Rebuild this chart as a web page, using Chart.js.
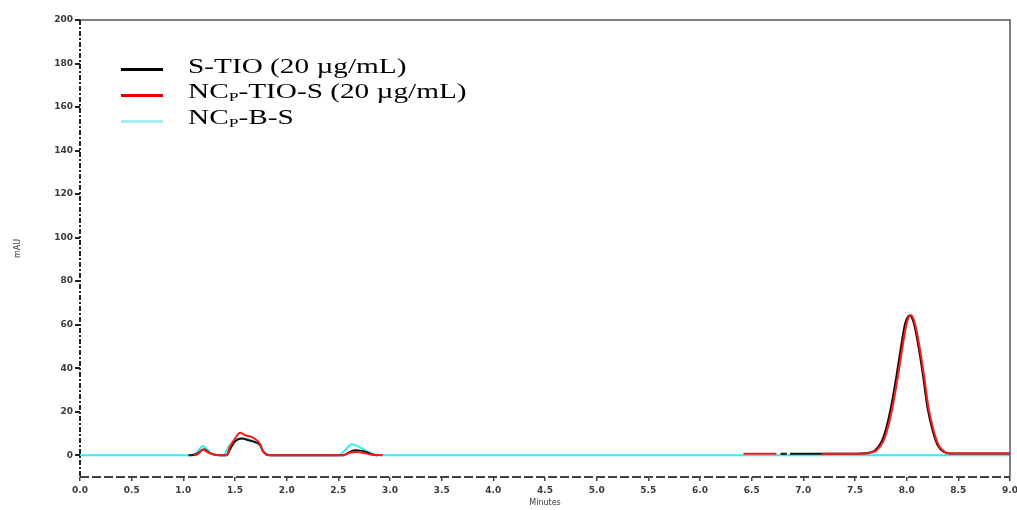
<!DOCTYPE html>
<html>
<head>
<meta charset="utf-8">
<script src="https://cdn.jsdelivr.net/npm/chart.js@4"></script>
<style>
    body { margin: 0; background: #fff; }
    #wrap { position: relative; width: 1017px; height: 510px; }
    #legend { position: absolute; left: 121px; top: 53px; font-family: "Liberation Serif", "Times New Roman", serif; font-size: 22px; color: #000; }
    .row { display: flex; align-items: center; height: 26px; }
    .swatch { width: 42px; height: 3px; margin-right: 25px; position: relative; top: 3px; }
    .txt { display: inline-block; transform: scaleX(1.33); transform-origin: left center; white-space: nowrap; }
    sub { font-size: 60%; vertical-align: -0.25em; }
</style>
</head>
<body>
<div id="wrap">
    <canvas id="myChart" width="1017" height="510"></canvas>
    <div id="legend"></div>
</div>
<script>
// tick labels
const xTicks = [0, 0.5, 1, 1.5, 2, 2.5, 3, 3.5, 4, 4.5, 5, 5.5, 6, 6.5, 7, 7.5, 8, 8.5, 9];
const yTicks = [0, 20, 40, 60, 80, 100, 120, 140, 160, 180, 200];

// legend labels (P is written as subscript)
const seriesNames = ['S-TIO (20 µg/mL)', 'NC<sub>P</sub>-TIO-S (20 µg/mL)', 'NC<sub>P</sub>-B-S'];

// S-TIO (black), null breaks the trace
const stioTime = [1.05, 1.12, 1.16, 1.20, 1.24, 1.29, 1.36, 1.42, 1.45, 1.49, 1.53, 1.57, 1.63, 1.69, 1.74, 1.77, 1.80, 1.84,
    2.55, 2.59, 2.66, 2.73, 2.79, 2.84, 2.88, 2.89,
    6.78, 6.84, 6.85, 6.87, 7.20, 7.50, 7.60, 7.645, 7.695, 7.755, 7.805, 7.855, 7.905, 7.945, 7.985, 8.03, 8.07, 8.12, 8.16,
    8.20, 8.25, 8.30, 8.36, 8.42, 8.60, 9.00];
const stioValue = [0, 0.3, 1.6, 2.8, 1.4, 0.4, 0, 0, 2.5, 5.8, 7.3, 7.7, 6.9, 6.1, 4.9, 2.0, 0.5, 0,
    0, 1.0, 2.3, 2.0, 1.1, 0.2, 0, null,
    0.7, 0.7, null, 0.7, 0.7, 0.7, 0.9, 1.3, 2.3, 6.1, 13.0, 23.8, 37.6, 49.8, 60.5, 64.2, 60.5, 48.3, 36.0,
    22.2, 11.5, 4.6, 1.5, 0.8, 0.8, 0.8];

// NCp-TIO-S (red)
const nctioTime = [1.10, 1.14, 1.19, 1.23, 1.28, 1.35, 1.42, 1.45, 1.50, 1.55, 1.60, 1.66, 1.71, 1.74, 1.77, 1.81, 1.85,
    2.55, 2.61, 2.68, 2.74, 2.81, 2.93, 2.94,
    6.42, 6.74, 6.75, 7.18, 7.50, 7.62, 7.66, 7.71, 7.77, 7.82, 7.87, 7.92, 7.96, 8.00, 8.04, 8.08, 8.13, 8.17, 8.21, 8.26,
    8.31, 8.37, 8.42, 8.60, 9.00];
const nctioValue = [0, 0.5, 2.6, 1.5, 0.5, 0, 0, 3.8, 7.7, 10.3, 9.2, 8.4, 6.9, 5.4, 1.9, 0.4, 0,
    0, 1.1, 1.5, 1.1, 0.3, 0, null,
    0.7, 0.7, null, 0.7, 0.7, 0.8, 1.3, 2.3, 6.1, 13.0, 23.8, 37.6, 49.8, 60.5, 64.4, 60.5, 48.3, 36.0, 22.2, 11.5,
    4.6, 1.5, 0.8, 0.8, 0.8];

// NCp-B-S (cyan)
const ncbTime = [0, 1.08, 1.12, 1.16, 1.19, 1.24, 1.27, 1.32, 1.39, 1.435, 1.50, 1.55, 1.63, 1.69, 1.74, 1.79, 1.81,
    2.50, 2.565, 2.63, 2.69, 2.76, 2.81, 2.87, 9.00];
const ncbValue = [0, 0, 0.8, 3.0, 4.3, 2.3, 0.8, 0, 0, 3.8, 6.9, 7.7, 7.2, 6.1, 4.6, 0.8, 0,
    0, 2.3, 5.0, 4.1, 2.3, 1.1, 0, 0];

function pairs(t, v) {
    return t.map((x, i) => ({ x: x, y: v[i] }));
}

// legend
const swatches = ['#000000', '#e00000', '#a8f0f0'];
document.getElementById('legend').innerHTML = seriesNames.map((n, i) =>
    `<div class="row"><span class="swatch" style="background:${swatches[i]}"></span><span class="txt">${n}</span></div>`).join('');

// frame: solid top/right, dashed left/bottom axes
const frame = {
    id: 'frame',
    afterDraw(chart) {
        const a = chart.chartArea;
        const c = chart.ctx;
        c.save();
        c.strokeStyle = '#555';
        c.lineWidth = 1.5;
        c.beginPath();
        c.moveTo(a.left, a.top);
        c.lineTo(a.right, a.top);
        c.lineTo(a.right, a.bottom);
        c.stroke();

        c.lineWidth = 2;
        c.strokeStyle = '#222';
        c.setLineDash([5, 2, 2, 2]);
        c.beginPath();
        c.moveTo(a.left, a.top);
        c.lineTo(a.left, a.bottom);
        c.stroke();

        c.strokeStyle = '#444';
        c.setLineDash([9, 3]);
        c.beginPath();
        c.moveTo(a.left, a.bottom);
        c.lineTo(a.right, a.bottom);
        c.stroke();
        c.restore();
    }
};

const tickFont = { family: 'DejaVu Sans', size: 9, weight: 'bold' };
const ctx = document.getElementById('myChart');

let myChart = new Chart(ctx, {
    type: 'line',
    data: {
        datasets: [{
            label: 'NCp-TIO-S (20 µg/mL)',
            data: pairs(nctioTime, nctioValue),
            borderColor: '#ff1a1a',
            order: 0
        }, {
            label: 'S-TIO (20 µg/mL)',
            data: pairs(stioTime, stioValue),
            borderColor: '#111111',
            order: 1
        }, {
            label: 'NCp-B-S',
            data: pairs(ncbTime, ncbValue),
            borderColor: '#2ef0f0',
            order: 2
        }]
    },
    options: {
        responsive: false,
        animation: false,
        devicePixelRatio: 1,
        spanGaps: false,
        layout: { padding: { left: 0, top: 20, right: 7, bottom: 0 } },
        elements: {
            point: { radius: 0 },
            line: { borderWidth: 2, tension: 0, cubicInterpolationMode: 'monotone' }
        },
        plugins: {
            legend: { display: false },
            tooltip: { enabled: false }
        },
        scales: {
            x: {
                type: 'linear',
                min: 0,
                max: 9,
                afterFit: (s) => { s.height = 33; s.paddingRight = 0; s.paddingLeft = 0; },
                afterBuildTicks: (s) => { s.ticks = xTicks.map(v => ({ value: v })); },
                ticks: {
                    font: tickFont,
                    color: '#3a3a3a',
                    padding: 4,
                    maxRotation: 0,
                    callback: (v) => Number(v).toFixed(1)
                },
                grid: { drawOnChartArea: false, drawTicks: true, tickLength: 4, color: '#444', lineWidth: 1.5 },
                border: { display: false },
                title: {
                    display: true,
                    text: 'Minutes',
                    font: { family: 'DejaVu Sans', size: 8 },
                    color: '#3a3a3a',
                    padding: { top: 0, bottom: 2 }
                }
            },
            y: {
                min: -10,
                max: 200,
                afterFit: (s) => { s.width = 80; },
                afterBuildTicks: (s) => { s.ticks = yTicks.map(v => ({ value: v })); },
                ticks: {
                    font: tickFont,
                    color: '#3a3a3a',
                    padding: 2
                },
                grid: { drawOnChartArea: false, drawTicks: true, tickLength: 5, color: '#222', lineWidth: 2 },
                border: { display: false },
                title: {
                    display: true,
                    text: 'mAU',
                    font: { family: 'DejaVu Sans', size: 8 },
                    color: '#3a3a3a',
                    padding: { top: 13, bottom: 0 }
                }
            }
        }
    },
    plugins: [frame]
});
</script>
</body>
</html>
